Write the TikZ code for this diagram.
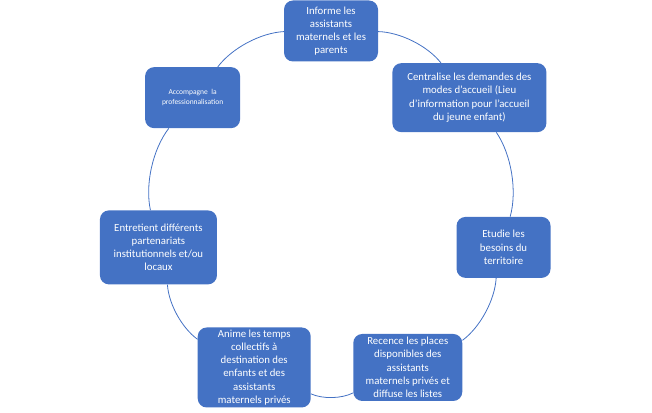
\documentclass[tikz,border=0pt]{standalone}
\usepackage{fontspec}
\setmainfont{Carlito}
\definecolor{officeblue}{HTML}{4472C4}
\begin{document}
\begin{tikzpicture}[
task/.style={rectangle, rounded corners=9pt, fill=officeblue, text=white, align=center, inner sep=0pt, font=\fontsize{10.8}{13.2}\selectfont},
small/.style={font=\fontsize{7.5}{10}\selectfont},
link/.style={draw=officeblue, line width=0.8pt, bend left=25, looseness=0.8},
]
\useasboundingbox (-331pt, -204pt) rectangle (321pt, 208pt);

%Tasks
\node[task, minimum width=94pt, minimum height=61pt] (inform) at (90:177pt) {Informe les\\assistants\\maternels et les\\parents};
\node[task, minimum width=154pt, minimum height=69pt] (central) at (38.57:177pt) {Centralise les demandes des\\modes d'accueil (Lieu\\d'information pour l'accueil\\du jeune enfant)};
\node[task, minimum width=94pt, minimum height=61pt] (etude) at (-12.86:177pt) {Etudie les\\besoins du\\territoire};
\node[task, minimum width=109pt, minimum height=67pt] (recense) at (-64.29:177pt) {Recence les places\\disponibles des\\assistants\\maternels privés et\\diffuse les listes};
\node[task, minimum width=113pt, minimum height=80pt] (anime) at (-115.71:177pt) {Anime les temps\\collectifs à\\destination des\\enfants et des\\assistants\\maternels privés};
\node[task, minimum width=117pt, minimum height=74pt] (entretient) at (-167.14:177pt) {Entretient différents\\partenariats\\institutionnels et/ou\\locaux};
\node[task, small, minimum width=95pt, minimum height=61pt] (accomp) at (141.43:177pt) {Accompagne\ \ la\\professionnalisation};

%Cycle
\draw[link] (inform) to (central);
\draw[link] (central) to (etude);
\draw[link] (etude) to (recense);
\draw[link] (recense) to (anime);
\draw[link] (anime) to (entretient);
\draw[link] (entretient) to (accomp);
\draw[link] (accomp) to (inform);
\end{tikzpicture}
\end{document}
